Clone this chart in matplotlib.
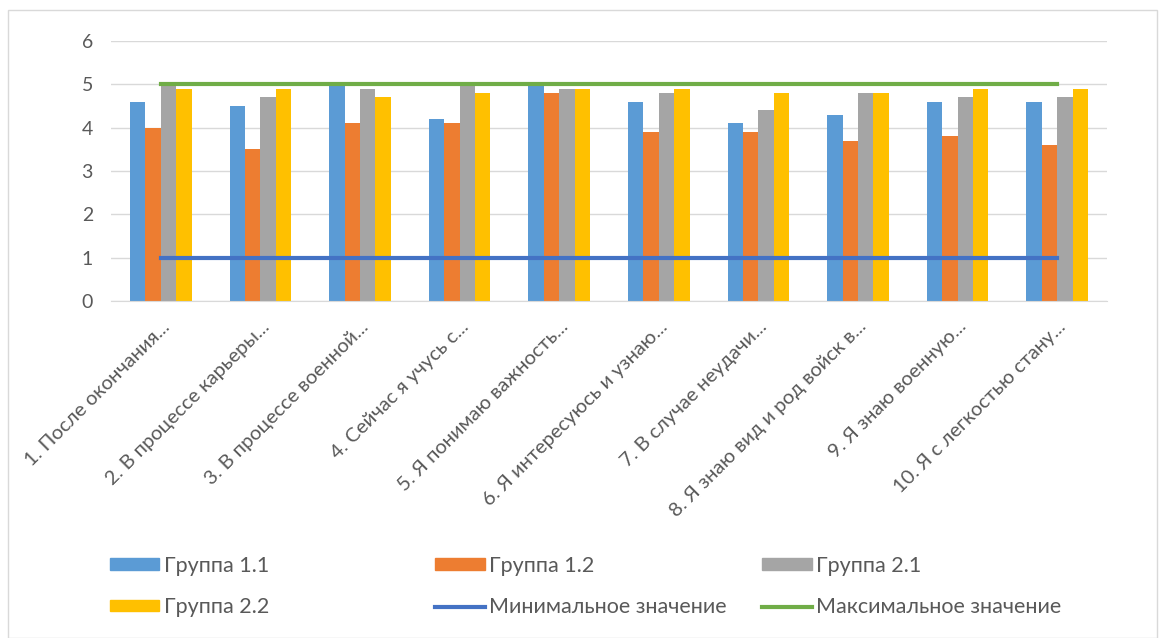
import matplotlib.pyplot as plt
import matplotlib.patches as mpatches
from matplotlib.lines import Line2D
import numpy as np

plt.rcParams['font.family'] = ['Lato', 'DejaVu Sans']

categories = ['1. После окончания...', '2. В процессе карьеры...', '3. В процессе военной...',
              '4. Сейчас я учусь с...', '5. Я понимаю важность...', '6. Я интересуюсь и узнаю...',
              '7. В случае неудачи...', '8. Я знаю вид и род войск в...', '9. Я знаю военную...',
              '10. Я с легкостью стану...']
g11 = [4.6, 4.5, 5.0, 4.2, 5.0, 4.6, 4.1, 4.3, 4.6, 4.6]
g12 = [4.0, 3.5, 4.1, 4.1, 4.8, 3.9, 3.9, 3.7, 3.8, 3.6]
g21 = [5.0, 4.7, 4.9, 5.0, 4.9, 4.8, 4.4, 4.8, 4.7, 4.7]
g22 = [4.9, 4.9, 4.7, 4.8, 4.9, 4.9, 4.8, 4.8, 4.9, 4.9]
min_val = [1] * 10
max_val = [5] * 10

series = [('Группа 1.1', g11, '#5B9BD5'), ('Группа 1.2', g12, '#ED7D31'),
          ('Группа 2.1', g21, '#A5A5A5'), ('Группа 2.2', g22, '#FFC000')]

fig = plt.figure(figsize=(11.6, 6.38), dpi=100)
ax = fig.add_axes([0.0957, 0.528, 0.8586, 0.4075])

x = np.arange(len(categories))
w = 0.155
for i, (name, vals, col) in enumerate(series):
    ax.bar(x + (i - 1.5) * w, vals, w, color=col, zorder=2)

ax.plot(x, min_val, color='#4472C4', lw=3, zorder=3)
ax.plot(x, max_val, color='#70AD47', lw=3, zorder=3)

ax.set_xlim(-0.5, len(categories) - 0.5)
ax.set_ylim(0, 6)
ax.set_yticks(range(7))
ax.grid(axis='y', color='#D9D9D9', lw=1, zorder=0)
for s in ['top', 'right', 'left']:
    ax.spines[s].set_visible(False)
ax.spines['bottom'].set_color('#D9D9D9')
ax.tick_params(axis='both', length=0, colors='#595959')
ax.tick_params(axis='y', pad=13, labelsize=14)
ax.tick_params(axis='x', pad=12, labelsize=14.5)
ax.set_xticks(x)
ax.set_xticklabels(categories, rotation=45, ha='right', rotation_mode='anchor')

h = [mpatches.Patch(color=c) for _, _, c in series]
hmin = Line2D([], [], color='#4472C4', lw=3)
hmax = Line2D([], [], color='#70AD47', lw=3)
cols = [([h[0], h[3]], ['Группа 1.1', 'Группа 2.2'], 0.0948),
        ([h[1], hmin], ['Группа 1.2', 'Минимальное значение'], 0.375),
        ([h[2], hmax], ['Группа 2.1', 'Максимальное значение'], 0.657)]
for hs, ls, xpos in cols:
    leg = fig.legend(hs, ls, loc='center left', bbox_to_anchor=(xpos, 0.0807),
                     frameon=False, fontsize=15.5, labelcolor='#595959', borderpad=0,
                     borderaxespad=0, handlelength=2.3, handletextpad=0.22,
                     labelspacing=1.0, handleheight=0.45)

fig.add_artist(mpatches.Rectangle((0.007, 0.0), 0.99, 0.984, transform=fig.transFigure,
                                  fill=False, edgecolor='#D9D9D9', lw=1))

fig.savefig('out.png', dpi=100)
